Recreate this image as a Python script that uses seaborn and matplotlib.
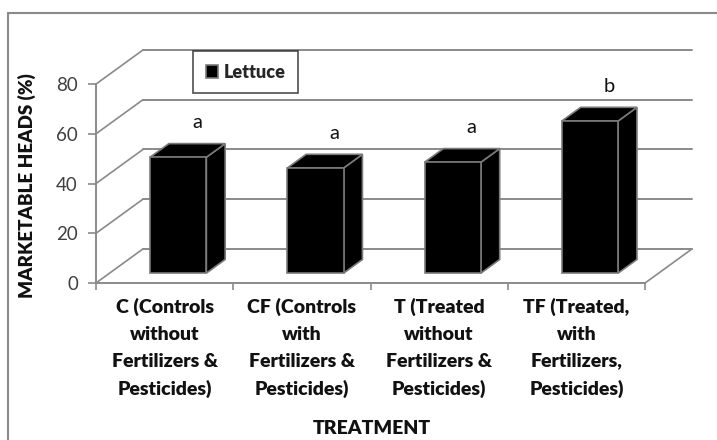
import numpy as np
import matplotlib
matplotlib.use("Agg")
import matplotlib.pyplot as plt
import matplotlib.transforms as mtransforms
from matplotlib.patches import Polygon
from matplotlib.lines import Line2D
import seaborn as sns

# Data
treatments = ["C (Controls\nwithout\nFertilizers &\nPesticides)",
              "CF (Controls\nwith\nFertilizers &\nPesticides)",
              "T (Treated\nwithout\nFertilizers &\nPesticides)",
              "TF (Treated,\nwith\nFertilizers,\nPesticides)"]
heads = [46.6, 42.3, 44.6, 61.2]
letters = ["a", "a", "a", "b"]
y_ticks = [0, 20, 40, 60, 80]

sns.set_style("white")
plt.rcParams['font.family'] = ['Lato', 'DejaVu Sans']

grid_col = "#8a8a8a"
edge_col = "#7a7a7a"

# depth of the 3D box in data units (x, y)
DX = 0.342
DY = 13.7
front = 0.29   # depth fraction where bar front faces sit
depth = 0.40   # bar depth as fraction of box depth

fig = plt.figure(figsize=(7.17, 4.40), dpi=100)
ax = fig.add_axes([96 / 717, (440 - 283) / 440, (692 - 96) / 717, (283 - 50) / 440])

sns.barplot(x=treatments, y=heads, color="black", width=0.41, ax=ax,
            label="Lettuce", edgecolor=edge_col, linewidth=1.2, zorder=3)

ax.set_xlim(-0.5, 3.5 + DX)
ax.set_ylim(0, 80 + DY)

# back wall, side wall and floor
for v in y_ticks:
    ax.plot([-0.5 + DX, 3.5 + DX], [v + DY, v + DY], color=grid_col, lw=1.4, zorder=1, clip_on=False)
    ax.plot([-0.5, -0.5 + DX], [v, v + DY], color=grid_col, lw=1.2, zorder=1, clip_on=False)
ax.plot([3.5, 3.5 + DX], [0, DY], color=grid_col, lw=1.2, zorder=1, clip_on=False)

# turn the flat bars into 3D boxes
shift = mtransforms.Affine2D().translate(front * DX, front * DY) + ax.transData
for p, letter in zip(list(ax.patches), letters):
    x0 = p.get_x()
    w = p.get_width()
    h = p.get_height()
    p.set_transform(shift)
    bx, by = depth * DX, depth * DY
    side = Polygon([(x0 + w, 0), (x0 + w + bx, by), (x0 + w + bx, h + by), (x0 + w, h)],
                   closed=True, facecolor="black", edgecolor=edge_col, lw=1.2,
                   transform=shift, zorder=2.9)
    top = Polygon([(x0, h), (x0 + bx, h + by), (x0 + w + bx, h + by), (x0 + w, h)],
                  closed=True, facecolor="black", edgecolor=edge_col, lw=1.2,
                  transform=shift, zorder=2.9)
    ax.add_patch(side)
    ax.add_patch(top)
    ax.text(x0 + w / 2 + (front + depth) * DX, h + (front + depth) * DY + 8.5, letter,
            ha="center", va="center", fontsize=14.5, color="#111111")

# axes styling
for s in ["top", "right"]:
    ax.spines[s].set_visible(False)
ax.spines["left"].set_bounds(0, 80)
ax.spines["bottom"].set_bounds(-0.5, 3.5)
for s in ["left", "bottom"]:
    ax.spines[s].set_color(grid_col)
    ax.spines[s].set_linewidth(1.4)

ax.set_yticks(y_ticks)
ax.tick_params(axis="y", length=6, width=1.2, color=grid_col, labelcolor="#404040",
               labelsize=13.5, pad=7, left=True)
ax.set_xticks(range(len(treatments)))
ax.set_xticklabels(treatments, fontsize=14, fontweight="heavy", color="#111111", linespacing=1.68)
ax.tick_params(axis="x", length=0, pad=11)
ax.set_xticks(np.arange(-0.5, 4, 1), minor=True)
ax.tick_params(axis="x", which="minor", length=5, width=1.2, color=grid_col, bottom=True)

ax.set_ylabel("MARKETABLE HEADS (%)", fontsize=13.5, fontweight="heavy", color="#111111")
ax.yaxis.set_label_coords((36 - 96) / 596, (283 - 186) / 233)
ax.set_xlabel("TREATMENT", fontsize=14, fontweight="heavy", color="#111111")
ax.xaxis.set_label_coords((372 - 96) / 596, (283 - 428) / 233)
ax.xaxis.label.set_va("center")

leg = ax.legend(loc="upper left", bbox_to_anchor=(193 / 717, 1 - 51 / 440),
                bbox_transform=fig.transFigure, fancybox=False, frameon=True,
                handlelength=0.7, handleheight=0.7, handletextpad=0.3,
                borderpad=0.7, borderaxespad=0,
                prop={"weight": "heavy", "size": 13})
leg.get_frame().set_edgecolor("#222222")
leg.get_frame().set_linewidth(1.2)

# outer chart frame (left and top edges)
fig.add_artist(Line2D([8 / 717, 8 / 717], [0, 1 - 13 / 440], color="#8a8a8a", lw=1.5,
                      transform=fig.transFigure))
fig.add_artist(Line2D([8 / 717, 1], [1 - 13 / 440, 1 - 13 / 440], color="#8a8a8a", lw=1.5,
                      transform=fig.transFigure))

fig.savefig("out.png", dpi=100)
